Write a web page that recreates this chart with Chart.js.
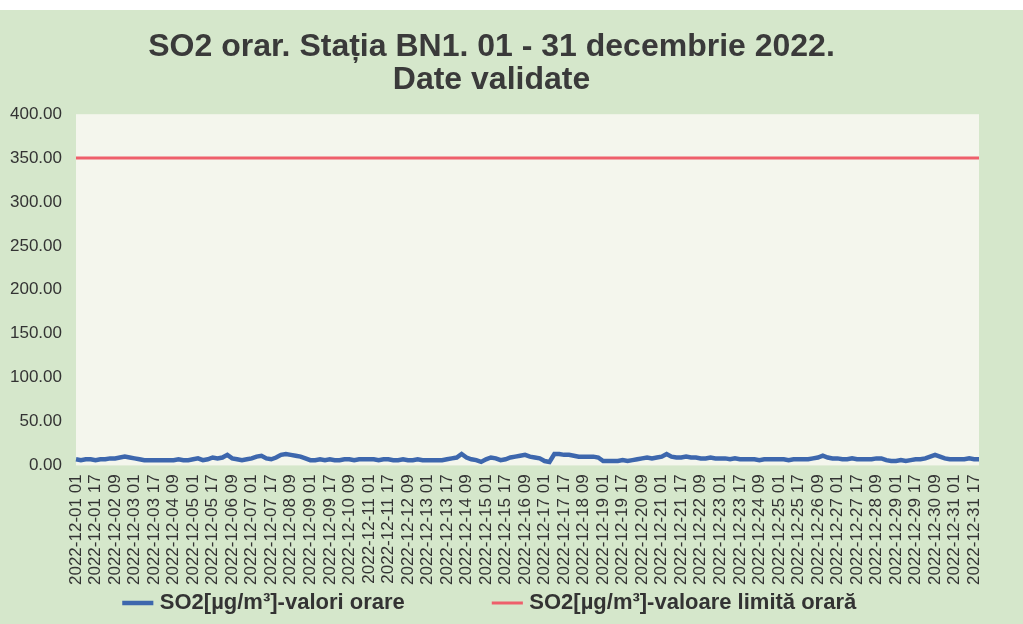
<!DOCTYPE html>
<html>
<head>
<meta charset="utf-8">
<script src="https://cdn.jsdelivr.net/npm/chart.js@4/dist/chart.umd.min.js"></script>
<style>
  html, body { margin: 0; padding: 0; background: #ffffff; }
  #wrap { position: absolute; left: 0; top: 10px; width: 1023px; height: 614px; background: #d5e7cb; }
</style>
</head>
<body>
<div id="wrap"><canvas id="myChart" width="1023" height="614"></canvas></div>
<script>
// days of December 2022 and the 4-hourly readings of each day
var days = ["01","02","03","04","05","06","07","08","09","10","11","12","13","14","15","16",
            "17","18","19","20","21","22","23","24","25","26","27","28","29","30","31"];
var hours = ["01","05","09","13","17","21"];

// SO2 hourly values (µg/m³), read every 4 hours, one row per day
var so2Values = [
    7, 6, 7, 7, 6, 7,
    7, 8, 8, 9, 10, 9,
    8, 7, 6, 6, 6, 6,
    6, 6, 6, 7, 6, 6,
    7, 8, 6, 7, 9, 8,
    9, 12, 8, 7, 6, 7,
    8, 10, 11, 8, 7, 9,
    12, 13, 12, 11, 10, 8,
    6, 6, 7, 6, 7, 6,
    6, 7, 7, 6, 7, 7,
    7, 7, 6, 7, 7, 6,
    6, 7, 6, 6, 7, 6,
    6, 6, 6, 6, 7, 8,
    9, 13, 9, 7, 6, 4,
    7, 9, 8, 6, 7, 9,
    10, 11, 12, 10, 9, 8,
    5, 4, 13, 13, 12, 12,
    11, 10, 10, 10, 10, 9,
    5, 5, 5, 5, 6, 5,
    6, 7, 8, 9, 8, 9,
    10, 13, 10, 9, 9, 10,
    9, 9, 8, 8, 9, 8,
    8, 8, 7, 8, 7, 7,
    7, 7, 6, 7, 7, 7,
    7, 7, 6, 7, 7, 7,
    7, 8, 9, 11, 9, 8,
    8, 7, 7, 8, 7, 7,
    7, 7, 8, 8, 6, 5,
    5, 6, 5, 6, 7, 7,
    8, 10, 12, 10, 8, 7,
    7, 7, 7, 8, 7, 7
];
var limitValue = 350;

var yTicks = [0, 50, 100, 150, 200, 250, 300, 350, 400];

var labels = [];
days.forEach(function (d) {
    hours.forEach(function (h) { labels.push("2022-12-" + d + " " + h); });
});
var limitValues = labels.map(function () { return limitValue; });

var plotBg = {
    id: "plotBg",
    beforeDraw: function (chart) {
        var a = chart.chartArea, ctx = chart.ctx;
        ctx.save();
        ctx.fillStyle = "#f4f6ed";
        ctx.fillRect(a.left, a.top, a.right - a.left, a.bottom - a.top);
        ctx.restore();
    }
};

Chart.defaults.font.family = "'Liberation Sans', Arial, sans-serif";
Chart.defaults.color = "#333333";

new Chart("myChart", {
    type: "line",
    data: {
        labels: labels,
        datasets: [{
            label: "SO2[µg/m³]-valori orare",
            data: so2Values,
            borderColor: "#3d67ad",
            backgroundColor: "#3d67ad",
            borderWidth: 4.5,
            pointRadius: 0,
            tension: 0
        }, {
            label: "SO2[µg/m³]-valoare limită orară",
            data: limitValues,
            borderColor: "#ee5f6b",
            backgroundColor: "#ee5f6b",
            borderWidth: 3,
            pointRadius: 0
        }]
    },
    options: {
        responsive: false,
        animation: false,
        layout: { padding: { left: 4, right: 44, top: 2, bottom: 0 } },
        plugins: {
            title: {
                display: true,
                text: ["SO2 orar. Stația BN1. 01 - 31 decembrie 2022.", "Date validate"],
                color: "#3a3a3a",
                font: { size: 32, weight: "bold", lineHeight: 1.05 },
                padding: { top: 18, bottom: 17 }
            },
            legend: {
                position: "bottom",
                labels: {
                    usePointStyle: true,
                    pointStyle: "line",
                    boxWidth: 30,
                    color: "#333333",
                    font: { size: 22, weight: "bold" },
                    padding: 6,
                    generateLabels: function (chart) {
                        var items = Chart.defaults.plugins.legend.labels.generateLabels(chart);
                        // wider gap after the first entry, as in the original legend
                        items[0].text = items[0].text + "              ";
                        return items;
                    }
                }
            },
            tooltip: { enabled: false }
        },
        scales: {
            x: {
                grid: { display: false },
                border: { display: false },
                ticks: {
                    autoSkip: false,
                    maxRotation: 90,
                    minRotation: 90,
                    padding: 1,
                    font: { size: 17 },
                    callback: function (v, i) { return i % 4 === 0 ? labels[i] : null; }
                }
            },
            y: {
                min: 0,
                max: 400,
                grid: { display: false },
                border: { display: false },
                afterBuildTicks: function (axis) {
                    axis.ticks = yTicks.map(function (v) { return { value: v }; });
                },
                afterFit: function (axis) { axis.width = 72; },
                ticks: {
                    padding: 6,
                    font: { size: 17 },
                    callback: function (v) { return Number(v).toFixed(2); }
                }
            }
        }
    },
    plugins: [plotBg]
});
</script>
</body>
</html>
